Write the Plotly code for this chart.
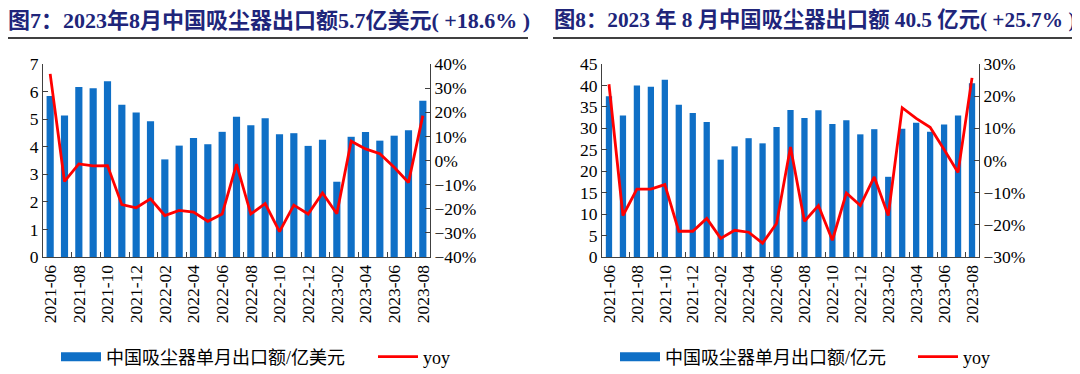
import plotly.graph_objects as go

months = ["2021-06","2021-07","2021-08","2021-09","2021-10","2021-11","2021-12",
          "2022-01","2022-02","2022-03","2022-04","2022-05","2022-06","2022-07",
          "2022-08","2022-09","2022-10","2022-11","2022-12","2023-01","2023-02",
          "2023-03","2023-04","2023-05","2023-06","2023-07","2023-08"]

usd_export = [5.84, 5.13, 6.17, 6.12, 6.37, 5.52, 5.24, 4.92, 3.54, 4.04, 4.32, 4.09, 4.54, 5.09,
              4.78, 5.03, 4.45, 4.49, 4.03, 4.25, 2.73, 4.36, 4.53, 4.22, 4.40, 4.60, 5.67]
usd_yoy = [35.9, -8.7, -1.4, -2.2, -2.1, -18.3, -19.6, -15.9, -22.8, -20.7, -21.4, -25.2, -22.2, -1.5,
           -22.2, -17.9, -29.5, -18.5, -22.2, -13.5, -22.1, 8.0, 4.8, 2.8, -2.8, -9.1, 18.6]

cny_export = [37.5, 33.0, 40.0, 39.7, 41.3, 35.5, 33.6, 31.5, 22.7, 25.8, 27.7, 26.5, 30.3, 34.3,
              32.4, 34.2, 31.0, 31.9, 28.6, 29.8, 18.7, 29.9, 31.3, 29.2, 30.9, 33.0, 40.5]
cny_yoy = [23.7, -17.1, -8.9, -8.9, -7.5, -22.0, -22.0, -18.0, -24.2, -21.7, -22.3, -25.7, -19.6, 4.2,
           -18.9, -14.0, -24.8, -10.1, -14.0, -5.1, -17.1, 16.4, 13.1, 10.3, 3.4, -3.7, 25.7]

title1 = "图7：2023年8月中国吸尘器出口额5.7亿美元( +18.6% )"
title2 = "图8：2023 年 8 月中国吸尘器出口额 40.5 亿元( +25.7% )"
bar_name1 = "中国吸尘器单月出口额/亿美元"
bar_name2 = "中国吸尘器单月出口额/亿元"
line_name = "yoy"

BLUE = "#0F6FC6"
RED = "#FF0000"
AX = "#404040"
TITLE_C = "#20257A"
SERIF = "Liberation Serif, Times New Roman, Noto Sans CJK SC, serif"

W, H = 1080, 374
OFF = 8  # page body margin offset


def px(x):
    return (x - OFF) / W


def py(y):
    return 1 - (y - OFF) / H


fig = go.Figure()

# Panel 1
fig.add_trace(go.Bar(x=months, y=usd_export, marker_color=BLUE, width=0.5,
                     xaxis="x", yaxis="y", showlegend=False))
fig.add_trace(go.Scatter(x=[None], y=[None], mode="lines", line=dict(color=BLUE, width=9),
                         name=bar_name1, xaxis="x", yaxis="y", legend="legend"))
fig.add_trace(go.Scatter(x=months, y=[v / 100 for v in usd_yoy], mode="lines",
                         line=dict(color=RED, width=2.8), name=line_name,
                         xaxis="x", yaxis="y2", legend="legend2"))

# Panel 2
fig.add_trace(go.Bar(x=months, y=cny_export, marker_color=BLUE, width=0.45,
                     xaxis="x2", yaxis="y3", showlegend=False))
fig.add_trace(go.Scatter(x=[None], y=[None], mode="lines", line=dict(color=BLUE, width=9),
                         name=bar_name2, xaxis="x2", yaxis="y3", legend="legend3"))
fig.add_trace(go.Scatter(x=months, y=[v / 100 for v in cny_yoy], mode="lines",
                         line=dict(color=RED, width=2.8), name=line_name,
                         xaxis="x2", yaxis="y4", legend="legend4"))

ydom = [py(257), py(64)]
tickfont = dict(family=SERIF, size=17.5, color="#000000")

xcommon = dict(type="category", categoryorder="array", categoryarray=months,
               tickmode="array", tickvals=months[::2], ticktext=months[::2],
               tickangle=-90, tickson="boundaries", ticks="inside", ticklen=5,
               tickcolor=AX, showline=True, linecolor=AX, linewidth=1,
               showgrid=False, zeroline=False, tickfont=tickfont,
               range=[-0.5, 26.5], fixedrange=True, automargin=False)
ycommon = dict(showline=True, linecolor=AX, linewidth=1, ticks="inside", ticklen=5,
               tickcolor=AX, showgrid=False, zeroline=False, tickfont=tickfont,
               automargin=False)

legfont = dict(family=SERIF, size=18, color="#000000")


def tfont(size):
    return dict(family="Liberation Serif, Noto Sans CJK SC", size=size, color=TITLE_C, weight="bold")


def leg(xpage):
    return dict(orientation="h", x=px(xpage), y=py(357), xanchor="left", yanchor="middle",
                font=legfont, itemwidth=40, bgcolor="rgba(0,0,0,0)", borderwidth=0)


fig.update_layout(
    template="none",
    width=W, height=H, autosize=False,
    margin=dict(l=0, r=0, t=0, b=0, pad=0),
    paper_bgcolor="white", plot_bgcolor="white",
    xaxis=dict(domain=[px(43), px(430)], anchor="y", **xcommon),
    xaxis2=dict(domain=[px(602), px(979)], anchor="y3", **xcommon),
    yaxis=dict(domain=ydom, anchor="x", range=[0, 7], dtick=1, side="left", **ycommon),
    yaxis2=dict(domain=ydom, anchor="x", overlaying="y", side="right",
                range=[-0.4, 0.4], dtick=0.1, tickformat=".0%", **ycommon),
    yaxis3=dict(domain=ydom, anchor="x2", range=[0, 45], dtick=5, side="left", **ycommon),
    yaxis4=dict(domain=ydom, anchor="x2", overlaying="y3", side="right",
                range=[-0.3, 0.3], dtick=0.1, tickformat=".0%", **ycommon),
    legend=leg(56),
    legend2=leg(373),
    legend3=leg(615),
    legend4=leg(913),
    annotations=[
        dict(text=title1, x=px(7), y=py(20), xref="paper", yref="paper",
             xanchor="left", yanchor="middle", showarrow=False, font=tfont(22), borderpad=0),
        dict(text=title2, x=px(553), y=py(20), xref="paper", yref="paper",
             xanchor="left", yanchor="middle", showarrow=False, font=tfont(21.3), borderpad=0),
    ],
    shapes=[
        dict(type="line", xref="paper", yref="paper", x0=px(7), x1=px(528),
             y0=py(38), y1=py(38), line=dict(color="#000000", width=1.5)),
        dict(type="line", xref="paper", yref="paper", x0=px(553), x1=px(1080),
             y0=py(38), y1=py(38), line=dict(color="#000000", width=1.5)),
    ],
)

fig.write_html("out.html")
